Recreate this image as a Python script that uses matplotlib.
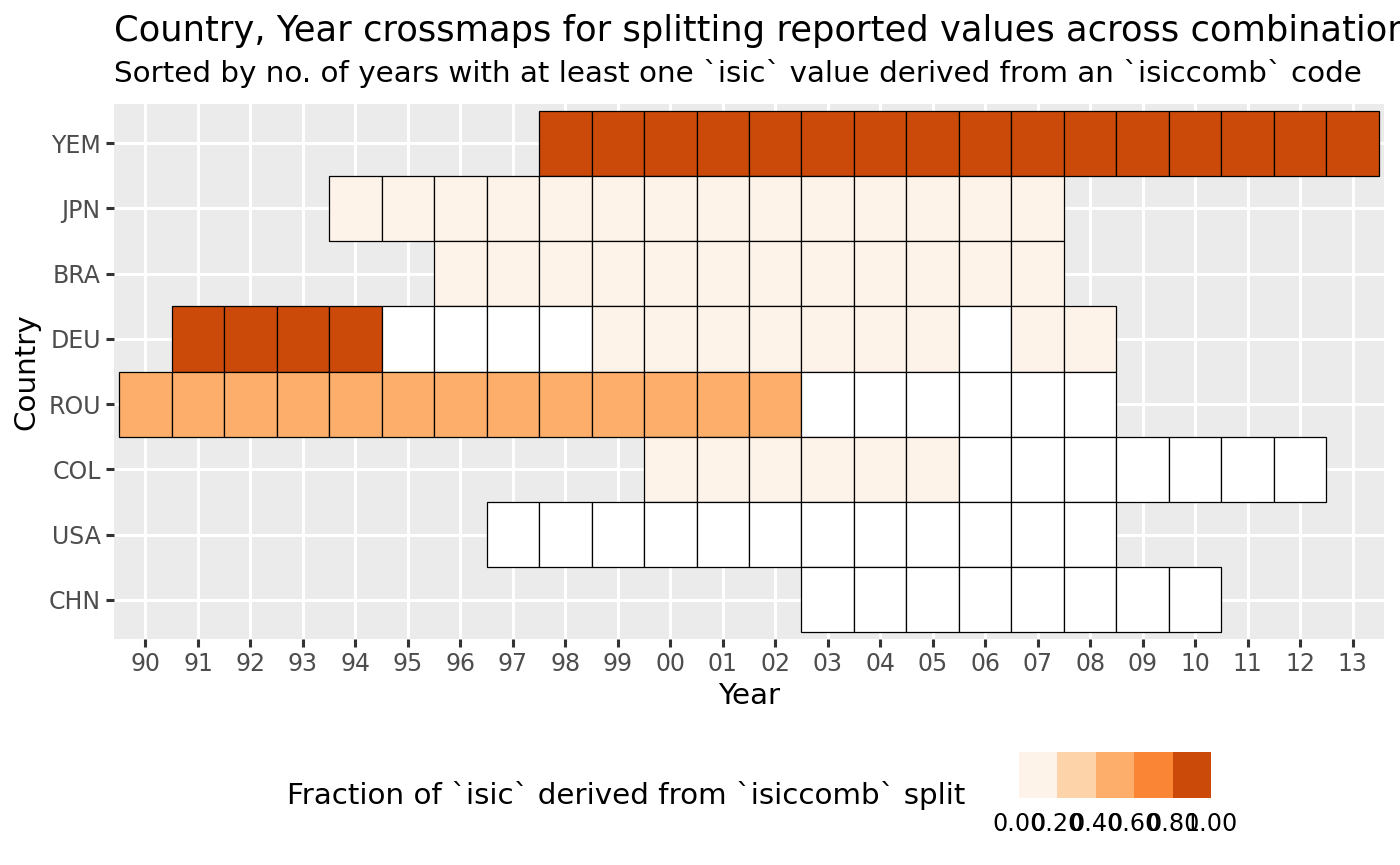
"""Country/year crossmap heatmap (isic derived from isiccomb split)."""

import matplotlib as mpl
import matplotlib.pyplot as plt
import numpy as np

# Years shown on the x axis (1990 .. 2013)
years = ["90", "91", "92", "93", "94", "95", "96", "97", "98", "99", "00", "01",
         "02", "03", "04", "05", "06", "07", "08", "09", "10", "11", "12", "13"]

# Countries, top to bottom
countries = ["YEM", "JPN", "BRA", "DEU", "ROU", "COL", "USA", "CHN"]

N = None          # no tile
W = np.nan        # tile present, value NA (drawn white)

# Fraction of `isic` derived from `isiccomb` split, one value per year
yem = [N, N, N, N, N, N, N, N, 1.0, 1.0, 1.0, 1.0, 1.0, 1.0, 1.0, 1.0,
       1.0, 1.0, 1.0, 1.0, 1.0, 1.0, 1.0, 1.0]
jpn = [N, N, N, N, 0.05, 0.05, 0.05, 0.05, 0.05, 0.05, 0.05, 0.05, 0.05,
       0.05, 0.05, 0.05, 0.05, 0.05, N, N, N, N, N, N]
bra = [N, N, N, N, N, N, 0.05, 0.05, 0.05, 0.05, 0.05, 0.05, 0.05, 0.05,
       0.05, 0.05, 0.05, 0.05, N, N, N, N, N, N]
deu = [N, 1.0, 1.0, 1.0, 1.0, W, W, W, W, 0.05, 0.05, 0.05, 0.05, 0.05,
       0.05, 0.05, W, 0.05, 0.05, N, N, N, N, N]
rou = [0.5, 0.5, 0.5, 0.5, 0.5, 0.5, 0.5, 0.5, 0.5, 0.5, 0.5, 0.5, 0.5,
       W, W, W, W, W, W, N, N, N, N, N]
col = [N, N, N, N, N, N, N, N, N, N, 0.05, 0.05, 0.05, 0.05, 0.05, 0.05,
       W, W, W, W, W, W, W, N]
usa = [N, N, N, N, N, N, N, W, W, W, W, W, W, W, W, W, W, W, W, N, N, N, N, N]
chn = [N, N, N, N, N, N, N, N, N, N, N, N, N, W, W, W, W, W, W, W, W, N, N, N]
rows = [yem, jpn, bra, deu, rou, col, usa, chn]

bin_edges = [0.0, 0.2, 0.4, 0.6, 0.8, 1.0]
bin_labels = ["0.00", "0.20", "0.40", "0.60", "0.80", "1.00"]
bin_colors = ["#FEF3E9", "#FDD4A9", "#FDAE6B", "#FA8535", "#CC4A09"]

cmap = mpl.colors.ListedColormap(bin_colors)
cmap.set_bad("white")
norm = mpl.colors.BoundaryNorm(bin_edges, cmap.N)

plt.rcParams["font.family"] = "DejaVu Sans"
fig = plt.figure(figsize=(7, 4.325), dpi=200)
ax = fig.add_axes([114 / 1400, 1 - 639 / 865, 1270 / 1400, 535 / 865])
ax.set_facecolor("#EBEBEB")

n_rows = len(countries)
for i, vals in enumerate(rows):
    ypos = n_rows - 1 - i
    xs = [j for j, v in enumerate(vals) if v is not None]
    vs = np.array([vals[j] for j in xs], dtype=float)
    colors = [cmap.get_bad() if np.isnan(v) else cmap(norm(v)) for v in vs]
    ax.bar(xs, 1.0, bottom=ypos - 0.5, width=1.0, color=colors,
           edgecolor="black", linewidth=0.45, zorder=3)

ax.set_xlim(-0.6, len(years) - 0.4)
ax.set_ylim(-0.6, n_rows - 0.4)
ax.set_xticks(range(len(years)))
ax.set_xticklabels(years)
ax.set_yticks(range(n_rows))
ax.set_yticklabels(countries[::-1])
ax.grid(True, color="white", linewidth=1.1, zorder=0)
ax.set_axisbelow(True)
for s in ax.spines.values():
    s.set_visible(False)
ax.tick_params(length=2.75, width=1.1, color="#333333", labelcolor="#4D4D4D",
               labelsize=8.5, pad=2)
ax.set_xlabel("Year", fontsize=10.6, labelpad=2)
ax.set_ylabel("Country", fontsize=10.6, labelpad=3)

fig.text(114 / 1400, 1 - 31 / 865, "Country, Year crossmaps for splitting reported "
         "values across combinations", fontsize=12.7, va="center", ha="left")
fig.text(114 / 1400, 1 - 73 / 865, "Sorted by no. of years with at least one "
         "`isic` value derived from an `isiccomb` code", fontsize=10.6,
         va="center", ha="left")

# binned legend at the bottom
cax = fig.add_axes([1019 / 1400, 1 - 798 / 865, 192 / 1400, 46 / 865])
cax.bar(range(len(bin_colors)), 1.0, width=1.0, align="edge", color=bin_colors,
        linewidth=0)
cax.set_xlim(0, len(bin_colors))
cax.set_ylim(0, 1)
cax.set_yticks([])
cax.set_xticks(range(len(bin_labels)))
cax.set_xticklabels(bin_labels)
cax.tick_params(length=0, labelsize=8.6, pad=5)
for s in cax.spines.values():
    s.set_visible(False)
fig.text(965 / 1400, 1 - 796 / 865,
         "Fraction of `isic` derived from `isiccomb` split",
         fontsize=10.6, ha="right", va="center")

fig.savefig("out.png", dpi=200)
